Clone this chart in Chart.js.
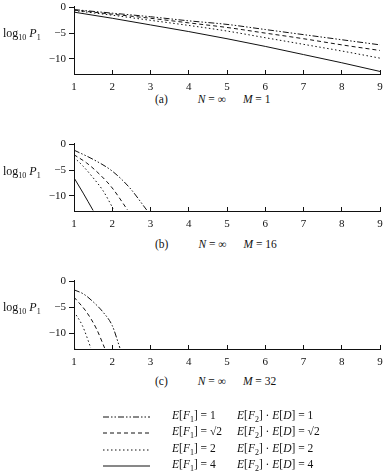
<!DOCTYPE html>
<html>
<head>
<meta charset="utf-8">
<script src="https://cdn.jsdelivr.net/npm/chart.js@4.4.0/dist/chart.umd.min.js"></script>
<style>
  body { margin: 0; background: #fff; }
  #page { position: relative; width: 385px; height: 472px; font-family: "Liberation Serif", "DejaVu Serif", serif; color: #111; }
  .panel { position: absolute; left: 0; width: 385px; }
  .ylab { position: absolute; left: 3px; font-size: 12px; white-space: nowrap; }
  .ylab sub { font-size: 8px; }
  .cap { position: absolute; font-size: 11.5px; white-space: nowrap; }
  .leg { position: absolute; font-size: 11.5px; white-space: nowrap; }
  .leg sub { font-size: 8px; }
  i { font-style: italic; }
</style>
</head>
<body>
<div id="page">
  <div class="panel" style="top:1px;height:92px"><canvas id="pa" width="385" height="92"></canvas></div>
  <div class="panel" style="top:138px;height:92px"><canvas id="pb" width="385" height="92"></canvas></div>
  <div class="panel" style="top:275px;height:93px"><canvas id="pc" width="385" height="93"></canvas></div>

  <div class="ylab" style="top:26px">log<sub>10</sub> <i>P</i><sub>1</sub></div>
  <div class="ylab" style="top:164px">log<sub>10</sub> <i>P</i><sub>1</sub></div>
  <div class="ylab" style="top:300px">log<sub>10</sub> <i>P</i><sub>1</sub></div>

  <div class="cap" style="left:155px;top:93px">(a)<span style="margin-left:30px"><i>N</i> = ∞</span><span style="margin-left:17px"><i>M</i> = 1</span></div>
  <div class="cap" style="left:155px;top:238px">(b)<span style="margin-left:30px"><i>N</i> = ∞</span><span style="margin-left:17px"><i>M</i> = 16</span></div>
  <div class="cap" style="left:155px;top:375px">(c)<span style="margin-left:30px"><i>N</i> = ∞</span><span style="margin-left:17px"><i>M</i> = 32</span></div>

  <svg style="position:absolute;left:0;top:0" width="385" height="472">
    <g stroke="#111" stroke-width="1" fill="none">
      <line x1="103" y1="417" x2="150" y2="417" stroke-dasharray="6,2,1.5,2,1.5,2"/>
      <line x1="103" y1="433" x2="150" y2="433" stroke-dasharray="4,3"/>
      <line x1="103" y1="450" x2="150" y2="450" stroke-dasharray="1.5,2.5"/>
      <line x1="103" y1="466" x2="150" y2="466"/>
    </g>
  </svg>
  <div class="leg" style="left:172px;top:409px"><i>E</i>[<i>F</i><sub>1</sub>] = 1</div>
  <div class="leg" style="left:237px;top:409px"><i>E</i>[<i>F</i><sub>2</sub>] · <i>E</i>[<i>D</i>] = 1</div>
  <div class="leg" style="left:172px;top:425px"><i>E</i>[<i>F</i><sub>1</sub>] = √2</div>
  <div class="leg" style="left:237px;top:425px"><i>E</i>[<i>F</i><sub>2</sub>] · <i>E</i>[<i>D</i>] = √2</div>
  <div class="leg" style="left:172px;top:442px"><i>E</i>[<i>F</i><sub>1</sub>] = 2</div>
  <div class="leg" style="left:237px;top:442px"><i>E</i>[<i>F</i><sub>2</sub>] · <i>E</i>[<i>D</i>] = 2</div>
  <div class="leg" style="left:172px;top:458px"><i>E</i>[<i>F</i><sub>1</sub>] = 4</div>
  <div class="leg" style="left:237px;top:458px"><i>E</i>[<i>F</i><sub>2</sub>] · <i>E</i>[<i>D</i>] = 4</div>
</div>

<script>
// axis ticks
const xTicks = [1, 2, 3, 4, 5, 6, 7, 8, 9];
const yTicks = [-10, -5, 0];

// (a) M = 1
const aX = [1, 2, 3, 4, 5, 6, 7, 8, 9];
const aDashDot = [-0.4, -1.1, -1.8, -2.6, -3.3, -4.3, -5.3, -6.3, -7.3];
const aDashed  = [-0.5, -1.3, -2.1, -3.0, -3.9, -5.0, -6.1, -7.3, -8.4];
const aDotted  = [-0.6, -1.5, -2.5, -3.5, -4.6, -5.9, -7.2, -8.5, -9.9];
const aSolid   = [-0.9, -2.1, -3.4, -4.7, -6.1, -7.6, -9.2, -10.8, -12.5];

// (b) M = 16
const bDashDotX = [1, 1.5, 2, 2.46, 2.9];
const bDashDotY = [-1.1, -2.9, -5.2, -8.5, -12.8];
const bDashedX = [1, 1.33, 1.68, 2, 2.4];
const bDashedY = [-2.0, -3.6, -5.9, -8.5, -12.8];
const bDottedX = [1, 1.24, 1.5, 1.77, 2.02];
const bDottedY = [-2.5, -4.25, -6.5, -9.15, -12.5];
const bSolidX = [1, 1.24, 1.5];
const bSolidY = [-6.5, -9.5, -12.9];

// (c) M = 32
const cDashDotX = [1, 1.25, 1.5, 1.76, 2, 2.2];
const cDashDotY = [-1.6, -2.4, -3.9, -5.9, -8.5, -12.8];
const cDashedX = [1, 1.33, 1.59, 1.8];
const cDashedY = [-3.0, -5.9, -9.15, -12.8];
const cDottedX = [1, 1.22, 1.44];
const cDottedY = [-5.8, -8.5, -12.8];
const cSolidX = [1, 1.02];
const cSolidY = [-12.3, -12.9];

const styles = {
  dashdot: [6, 2, 1.5, 2, 1.5, 2],
  dashed: [4, 3],
  dotted: [1.5, 2.5],
  solid: []
};

function pts(xs, ys) {
  return xs.map((x, i) => ({x: x, y: ys[i]}));
}

function ds(xs, ys, style) {
  return {
    data: pts(xs, ys),
    borderColor: "#111",
    borderWidth: 1,
    borderDash: styles[style],
    pointRadius: 0,
    fill: false,
    tension: 0.4,
    cubicInterpolationMode: "monotone"
  };
}

function makeChart(id, datasets) {
  const ctx = document.getElementById(id).getContext("2d");
  return new Chart(ctx, {
    type: "line",
    data: { datasets: datasets },
    options: {
      responsive: false,
      animation: false,
      layout: { padding: { top: 5, right: 5, left: 0, bottom: 0 } },
      plugins: { legend: { display: false }, tooltip: { enabled: false } },
      scales: {
        x: {
          type: "linear",
          min: 1,
          max: 9,
          afterBuildTicks: s => { s.ticks = xTicks.map(v => ({value: v})); },
          afterFit: s => { s.height = 19; s.paddingLeft = 0; s.paddingRight = 0; },
          border: { display: true, color: "#111", width: 1 },
          grid: { drawOnChartArea: false, drawTicks: true, tickLength: -4, color: "#111" },
          ticks: { color: "#111", padding: 11, maxRotation: 0, font: { family: "Liberation Serif", size: 11 } }
        },
        y: {
          type: "linear",
          min: -13,
          max: 0.3,
          afterBuildTicks: s => { s.ticks = yTicks.map(v => ({value: v})); },
          afterFit: s => { s.width = 74; s.paddingTop = 0; s.paddingBottom = 0; },
          border: { display: true, color: "#111", width: 1 },
          grid: { drawOnChartArea: false, drawTicks: true, tickLength: 5, color: "#111" },
          ticks: {
            color: "#111",
            padding: 3,
            font: { family: "Liberation Serif", size: 11 },
            callback: v => (v < 0 ? "\u2212" + Math.abs(v) : String(v))
          }
        }
      }
    }
  });
}

makeChart("pa", [
  ds(aX, aDashDot, "dashdot"),
  ds(aX, aDashed, "dashed"),
  ds(aX, aDotted, "dotted"),
  ds(aX, aSolid, "solid")
]);

makeChart("pb", [
  ds(bDashDotX, bDashDotY, "dashdot"),
  ds(bDashedX, bDashedY, "dashed"),
  ds(bDottedX, bDottedY, "dotted"),
  ds(bSolidX, bSolidY, "solid")
]);

makeChart("pc", [
  ds(cDashDotX, cDashDotY, "dashdot"),
  ds(cDashedX, cDashedY, "dashed"),
  ds(cDottedX, cDottedY, "dotted"),
  ds(cSolidX, cSolidY, "solid")
]);
</script>
</body>
</html>
